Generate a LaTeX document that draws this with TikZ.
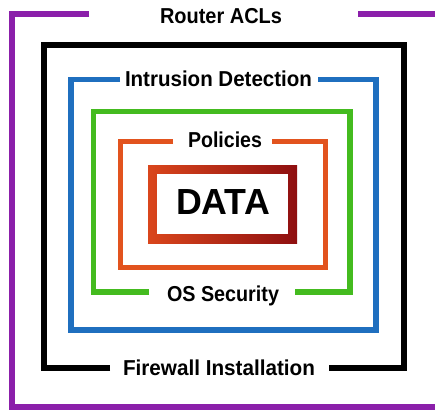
\documentclass[tikz,border=0pt]{standalone}
\usepackage{fontspec}
\setmainfont{Liberation Sans}
\usepackage{graphicx}
\definecolor{cpurple}{HTML}{8B1FAA}
\definecolor{cblue}{HTML}{1F6FBF}
\definecolor{cgreen}{HTML}{44BB1F}
\definecolor{corange}{HTML}{E2531E}
\definecolor{dleft}{HTML}{DA461C}
\definecolor{dright}{HTML}{8E0F10}
\newcommand\fitlbl[2]{\resizebox{#1}{\height}{#2}}
\begin{document}
\begin{tikzpicture}[x=1pt,y=-1pt,
  frame/.style={line width=#1, line join=miter, line cap=butt},
  lbl/.style={inner sep=0pt, anchor=base, font=\bfseries\fontsize{21.6}{24}\selectfont}]
\useasboundingbox (0,0) rectangle (435,409);
% Router ACLs (purple)
\draw[frame=6pt, cpurple] (89,14) -- (12,14) -- (12,406.5) -- (438,406.5) -- (438,14) -- (358,14);
\node[lbl] (router) at (221,23.3) {\fitlbl{122pt}{Router ACLs}};
% Firewall Installation (black)
\draw[frame=6pt, black] (110,367.5) -- (43.5,367.5) -- (43.5,45) -- (404,45) -- (404,367.5) -- (329,367.5);
\node[lbl] (firewall) at (219,375) {\fitlbl{192pt}{Firewall Installation}};
% Intrusion Detection (blue)
\draw[frame=5.5pt, cblue] (120,79.5) -- (71,79.5) -- (71,330) -- (376,330) -- (376,79.5) -- (318,79.5);
\node[lbl] (ids) at (218.5,86) {\fitlbl{187pt}{Intrusion Detection}};
% OS Security (green)
\draw[frame=5.5pt, cgreen] (149,292) -- (93.5,292) -- (93.5,111.5) -- (350,111.5) -- (350,292) -- (295,292);
\node[lbl] (os) at (223,301) {\fitlbl{112pt}{OS Security}};
% Policies (orange)
\draw[frame=5pt, corange] (173,141) -- (120,141) -- (120,267.5) -- (325.5,267.5) -- (325.5,141) -- (272,141);
\node[lbl] (pol) at (225,147.7) {\fitlbl{74pt}{Policies}};
% DATA
\shade[left color=dleft, right color=dright] (148,165) rectangle (297,243);
\fill[white] (157,174) rectangle (287.5,234);
\node[inner sep=0pt, anchor=base, font=\bfseries\fontsize{36.3}{40}\selectfont] (data) at (223,214) {\fitlbl{94pt}{DATA}};
\end{tikzpicture}
\end{document}
